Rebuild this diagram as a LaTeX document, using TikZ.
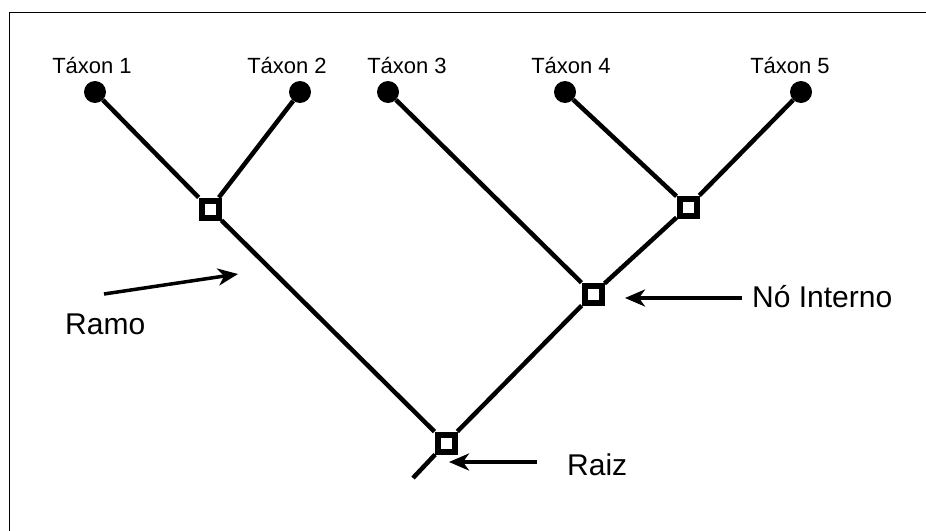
\documentclass[tikz,border=0pt]{standalone}
\usepackage{fontspec}
\setmainfont{Liberation Sans}
\usetikzlibrary{arrows.meta,positioning}

\begin{document}
\begin{tikzpicture}[
                    x=1pt, y=-1pt,
                    leaf/.style={circle, fill=black, inner sep=0pt, minimum size=22pt},
                    inner/.style={draw, rectangle, line width=6pt, fill=white, inner sep=0pt, minimum size=17pt},
                    taxon/.style={font=\fontsize{22}{26}\selectfont, anchor=base, inner sep=0pt},
                    callout/.style={font=\fontsize{30}{36}\selectfont, anchor=base west, inner sep=0pt},
                    branch/.style={line width=4.5pt},
                    pointer/.style={-{Stealth[length=20pt, width=17pt, inset=6pt]}, line width=3.5pt}
                ]
                    \useasboundingbox (0,0) rectangle (926,530);
                    % Frame
                    \draw[line width=1pt] (9,545) -- (9,12) -- (945,12);

                    % Leaves
                    \node[leaf] (T1) at (95,92) {};
                    \node[leaf] (T2) at (300,92) {};
                    \node[leaf] (T3) at (388,92) {};
                    \node[leaf] (T4) at (565,92) {};
                    \node[leaf] (T5) at (801,92) {};
                    \node[taxon] (Lab1) at (92,73) {Táxon 1};
                    \node[taxon] (Lab2) at (287,73) {Táxon 2};
                    \node[taxon] (Lab3) at (407,73) {Táxon 3};
                    \node[taxon] (Lab4) at (571,73) {Táxon 4};
                    \node[taxon] (Lab5) at (790,73) {Táxon 5};

                    % Internal nodes
                    \node[inner] (A) at (210,209) {};
                    \node[inner] (B) at (688,207) {};
                    \node[inner] (C) at (593,294) {};
                    \node[inner] (Root) at (446,443) {};
                    \coordinate (Stem) at (413,478);

                    % Branches
                    \draw[branch] (T1) -- (A);
                    \draw[branch] (T2) -- (A);
                    \draw[branch] (T3) -- (C);
                    \draw[branch] (T4) -- (B);
                    \draw[branch] (T5) -- (B);
                    \draw[branch] (B) -- (C);
                    \draw[branch] (C) -- (Root);
                    \draw[branch] (A) -- (Root);
                    \draw[branch] (Root) -- (Stem);

                    % Callouts
                    \node[callout] (Ramo) at (65,334) {Ramo};
                    \node[callout] (Interno) at (752,307) {Nó Interno};
                    \node[callout] (Raiz) at (567,475) {Raiz};
                    \coordinate (RamoFrom) at (104,294);
                    \coordinate (RamoTo) at (238,274);
                    \coordinate (IntFrom) at (742,298);
                    \coordinate (IntTo) at (625,298);
                    \coordinate (RaizFrom) at (537,462);
                    \coordinate (RaizTo) at (449,462);
                    \draw[pointer] (RamoFrom) -- (RamoTo);
                    \draw[pointer] (IntFrom) -- (IntTo);
                    \draw[pointer] (RaizFrom) -- (RaizTo);
                \end{tikzpicture}
\end{document}
